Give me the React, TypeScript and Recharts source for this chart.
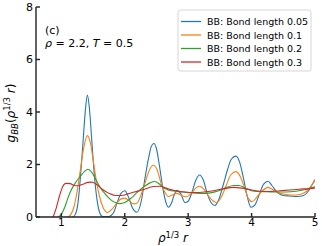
import React from "react"
import {
	LineChart,
	Line,
	XAxis,
	YAxis,
	Customized
} from "recharts"


// g_BB(r) curves as [rho^(1/3) r, g] pairs
const bond005: number[][] = [
	[1.18, 0], [1.22, 0.1], [1.26, 0.5], [1.30, 1.5], [1.34, 2.8], [1.38, 4.1], [1.41, 4.65],
	[1.44, 4.2], [1.48, 2.9], [1.52, 1.6], [1.56, 0.7], [1.60, 0.2], [1.65, 0.02], [1.75, 0.02],
	[1.82, 0.15], [1.88, 0.55], [1.94, 0.9], [2.00, 1.0], [2.06, 0.75], [2.12, 0.35], [2.19, 0.18],
	[2.26, 0.6], [2.32, 1.5], [2.38, 2.3], [2.42, 2.7], [2.46, 2.8], [2.50, 2.6], [2.55, 1.9],
	[2.60, 1.1], [2.65, 0.55], [2.69, 0.37], [2.74, 0.55], [2.78, 0.85], [2.83, 1.02], [2.88, 0.9],
	[2.95, 0.55], [3.00, 0.6], [3.06, 0.95], [3.12, 1.4], [3.18, 1.6], [3.24, 1.4], [3.30, 0.9],
	[3.36, 0.55], [3.42, 0.44], [3.48, 0.65], [3.55, 1.2], [3.62, 1.8], [3.68, 2.2], [3.75, 2.32],
	[3.81, 2.1], [3.87, 1.5], [3.93, 0.8], [3.99, 0.37], [4.05, 0.45], [4.12, 0.85], [4.19, 1.25],
	[4.26, 1.36], [4.32, 1.2], [4.40, 0.95], [4.50, 0.82], [4.60, 0.8], [4.72, 0.78], [4.82, 0.82],
	[4.90, 1.0], [4.96, 1.25], [5.00, 1.4]
]

const bond01: number[][] = [
	[1.10, 0], [1.15, 0.1], [1.20, 0.4], [1.25, 1.0], [1.30, 1.8], [1.35, 2.6], [1.41, 3.1],
	[1.46, 2.8], [1.50, 2.2], [1.55, 1.4], [1.60, 0.8], [1.66, 0.35], [1.73, 0.17], [1.80, 0.3],
	[1.88, 0.55], [1.95, 0.7], [2.00, 0.72], [2.07, 0.62], [2.14, 0.5], [2.19, 0.52], [2.25, 0.8],
	[2.32, 1.3], [2.39, 1.8], [2.45, 1.97], [2.51, 1.8], [2.57, 1.3], [2.63, 0.95], [2.69, 0.78],
	[2.76, 0.85], [2.82, 0.9], [2.90, 0.82], [2.97, 0.77], [3.05, 0.9], [3.12, 1.1], [3.18, 1.17],
	[3.25, 1.05], [3.32, 0.8], [3.40, 0.6], [3.45, 0.55], [3.52, 0.75], [3.60, 1.2], [3.67, 1.6],
	[3.75, 1.73], [3.82, 1.55], [3.89, 1.1], [3.95, 0.7], [4.01, 0.58], [4.08, 0.75], [4.16, 0.98],
	[4.26, 1.13], [4.35, 1.02], [4.45, 0.9], [4.55, 0.86], [4.66, 0.84], [4.76, 0.86], [4.85, 0.95],
	[4.93, 1.15], [5.00, 1.44]
]

const bond02: number[][] = [
	[0.95, 0], [1.00, 0.1], [1.05, 0.35], [1.10, 0.7], [1.15, 1.0], [1.22, 1.3], [1.30, 1.55],
	[1.37, 1.75], [1.42, 1.82], [1.48, 1.7], [1.55, 1.4], [1.62, 1.1], [1.70, 0.85], [1.78, 0.65],
	[1.85, 0.55], [1.92, 0.51], [2.00, 0.55], [2.10, 0.72], [2.20, 0.95], [2.30, 1.15], [2.40, 1.3],
	[2.47, 1.35], [2.55, 1.25], [2.62, 1.1], [2.70, 1.02], [2.80, 0.98], [2.90, 0.95], [3.00, 0.93],
	[3.10, 0.92], [3.22, 0.9], [3.35, 0.92], [3.48, 1.0], [3.60, 1.12], [3.72, 1.2], [3.80, 1.2],
	[3.90, 1.1], [4.00, 1.0], [4.10, 0.97], [4.25, 0.96], [4.40, 0.95], [4.55, 0.95], [4.70, 0.98],
	[4.85, 1.05], [5.00, 1.15]
]

const bond03: number[][] = [
	[0.87, 0], [0.92, 0.35], [0.97, 0.8], [1.02, 1.15], [1.07, 1.28], [1.14, 1.27], [1.20, 1.2],
	[1.26, 1.19], [1.34, 1.25], [1.42, 1.32], [1.48, 1.33], [1.55, 1.25], [1.65, 1.05], [1.75, 0.9],
	[1.85, 0.82], [1.95, 0.82], [2.05, 0.88], [2.15, 0.95], [2.30, 1.05], [2.45, 1.16], [2.55, 1.17],
	[2.65, 1.1], [2.80, 1.0], [2.95, 0.95], [3.10, 0.93], [3.25, 0.95], [3.40, 1.0], [3.55, 1.07],
	[3.72, 1.13], [3.85, 1.1], [4.00, 1.03], [4.15, 0.98], [4.30, 0.97], [4.45, 1.0], [4.60, 1.03],
	[4.75, 1.06], [4.90, 1.08], [5.00, 1.1]
]

const seriesNames = [
	"BB: Bond length 0.05",
	"BB: Bond length 0.1",
	"BB: Bond length 0.2",
	"BB: Bond length 0.3"
]
const seriesColors = ["#1f77b4", "#ff7f0e", "#2ca02c", "#d62728"]
const seriesPoints = [bond005, bond01, bond02, bond03]

const xTicks = [1, 2, 3, 4, 5]
const yTicks = [0, 2, 4, 6, 8]


const FONT = "'DejaVu Sans', sans-serif"
const AXIS = "#222222"


const series = seriesPoints.map((pts, i) => ({
	name: seriesNames[i],
	color: seriesColors[i],
	data: pts.map(([r, g]) => ({ r, g }))
}))


function Overlay() {
	return (
		<g fontFamily={FONT} fill="#000">

			<text x={45} y={34} fontSize={11}>(c)</text>

			<text x={45} y={47} fontSize={11}>
				<tspan fontStyle="italic">ρ</tspan>
				<tspan> = 2.2, </tspan>
				<tspan fontStyle="italic">T</tspan>
				<tspan> = 0.5</tspan>
			</text>

			<text x={173} y={242} fontSize={12} textAnchor="middle">
				<tspan fontStyle="italic">ρ</tspan>
				<tspan fontSize={8.5} dy={-4.5}>1/3</tspan>
				<tspan dy={4.5}> </tspan>
				<tspan fontStyle="italic">r</tspan>
			</text>

			<text transform="translate(15,113) rotate(-90)" fontSize={12} textAnchor="middle">
				<tspan fontStyle="italic">g</tspan>
				<tspan fontStyle="italic" fontSize={8.5} dy={3}>BB</tspan>
				<tspan dy={-3}>(</tspan>
				<tspan fontStyle="italic">ρ</tspan>
				<tspan fontSize={8.5} dy={-5}>1/3</tspan>
				<tspan dy={5}> </tspan>
				<tspan fontStyle="italic">r</tspan>
				<tspan>)</tspan>
			</text>

			{/* legend */}
			<rect
				x={178}
				y={10}
				width={133}
				height={61}
				rx={2.5}
				fill="#fff"
				fillOpacity={0.8}
				stroke="#cccccc"
				strokeWidth={0.8}
			/>
			{series.map((s, i) => (
				<g key={s.name}>
					<line
						x1={181}
						x2={201}
						y1={21.5 + i * 13.5}
						y2={21.5 + i * 13.5}
						stroke={s.color}
						strokeWidth={1.3}
					/>
					<text
						x={207}
						y={25 + i * 13.5}
						fontSize={9.5}
						fill="#000"
					>
						{s.name}
					</text>
				</g>
			))}
		</g>
	)
}


export default function App() {
	return (
		<div style={{ position: "absolute", left: 0, top: 0 }}>
			<LineChart
				width={322}
				height={246}
				margin={{ top: 7, right: 7, bottom: 0, left: 0 }}
			>

				<XAxis
					xAxisId="b"
					type="number"
					dataKey="r"
					domain={[0.6, 5]}
					ticks={xTicks}
					allowDataOverflow
					height={29}
					tickSize={-4}
					tickMargin={6}
					stroke={AXIS}
					strokeWidth={1.4}
					tick={{ fontSize: 10.5, fill: "#000", fontFamily: FONT }}
				/>

				<XAxis
					xAxisId="t"
					orientation="top"
					type="number"
					dataKey="r"
					domain={[0.6, 5]}
					ticks={xTicks}
					allowDataOverflow
					height={0}
					tickSize={-4}
					tickFormatter={() => ""}
					stroke={AXIS}
					strokeWidth={1.4}
				/>

				<YAxis
					yAxisId="l"
					type="number"
					domain={[0, 8]}
					ticks={yTicks}
					allowDataOverflow
					width={36}
					tickSize={-4}
					tickMargin={7}
					stroke={AXIS}
					strokeWidth={1.4}
					tick={{ fontSize: 11, fill: "#000", fontFamily: FONT }}
				/>

				<YAxis
					yAxisId="rt"
					orientation="right"
					type="number"
					domain={[0, 8]}
					ticks={yTicks}
					allowDataOverflow
					width={0}
					tickSize={-4}
					tickFormatter={() => ""}
					stroke={AXIS}
					strokeWidth={1.4}
				/>

				{series.map(s => (
					<Line
						key={s.name}
						xAxisId="b"
						yAxisId="l"
						data={s.data}
						dataKey="g"
						name={s.name}
						type="monotone"
						stroke={s.color}
						strokeWidth={1.1}
						dot={false}
						activeDot={false}
						isAnimationActive={false}
					/>
				))}

				<Customized component={<Overlay />} />

			</LineChart>
		</div>
	)
}
